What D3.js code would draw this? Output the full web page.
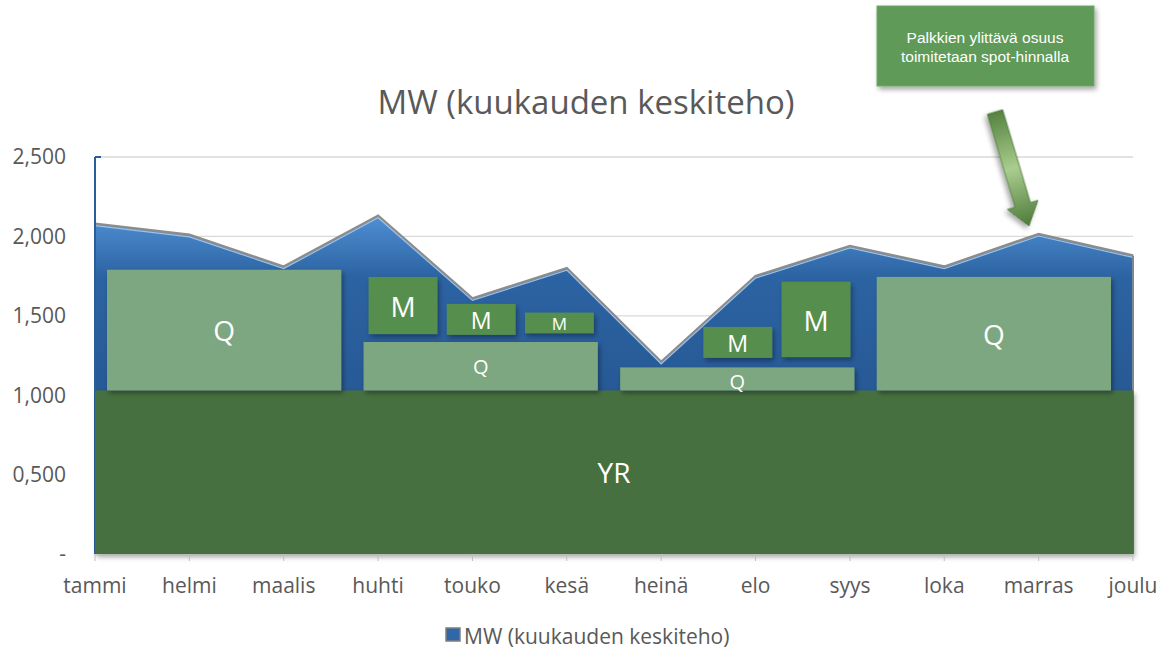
<!doctype html>
<html lang="fi">
<head>
<meta charset="UTF-8" />
<title>MW (kuukauden keskiteho)</title>
<script src="https://d3js.org/d3.v7.min.js"></script>
<style>
  html,body{margin:0;padding:0;background:#fff;}
  svg{font-family:"Open Sans","DejaVu Sans",sans-serif;}
  .tick-label{fill:#595959;font-size:21px;}
  .box-label{fill:#fff;text-anchor:middle;dominant-baseline:central;}
</style>
</head>
<body>
<div id="chart"></div>
<script>
/* ───── data ───── */
const months   = ['tammi','helmi','maalis','huhti','touko','kesä','heinä','elo','syys','loka','marras','joulu'];
const mwValues = [2080, 2010, 1810, 2130, 1610, 1800, 1210, 1750, 1940, 1810, 2015, 1880];
const yTicks   = [0, 500, 1000, 1500, 2000, 2500];
const yTickLabels = ['-', '0,500', '1,000', '1,500', '2,000', '2,500'];

const yrValue  = 1030;                       // vuosituote (YR)
const quarters = ['Q1','Q2','Q3','Q4'];
const qTop     = [1790, 1335, 1175, 1745];   // kvartaalituotteiden yläreuna
const mMonthIdx = [3, 4, 5, 7, 8];           // huhti, touko, kesä, elo, syys
const mBottom  = [1385, 1380, 1390, 1235, 1240];
const mTop     = [1745, 1575, 1520, 1430, 1715];

const titleText  = 'MW (kuukauden keskiteho)';
const legendText = 'MW (kuukauden keskiteho)';
const noteLines  = ['Palkkien ylittävä osuus', 'toimitetaan spot-hinnalla'];

/* ───── geometry ───── */
const W = 1159, H = 650;
const pL = 95, pR = 1133, pT = 157, pB = 554;

const svg = d3.select('#chart').append('svg').attr('width', W).attr('height', H);
const defs = svg.append('defs');

const areaGrad = defs.append('linearGradient').attr('id','areaGrad').attr('x1',0).attr('x2',0).attr('y1',0).attr('y2',1);
areaGrad.append('stop').attr('offset','0%').attr('stop-color','#4f8fd3');
areaGrad.append('stop').attr('offset','18%').attr('stop-color','#2c63a2');
areaGrad.append('stop').attr('offset','100%').attr('stop-color','#1f4c84');

const arrowGrad = defs.append('linearGradient').attr('id','arrowGrad').attr('x1',0).attr('x2',1).attr('y1',0).attr('y2',0);
arrowGrad.append('stop').attr('offset','0%').attr('stop-color','#56823f');
arrowGrad.append('stop').attr('offset','50%').attr('stop-color','#a9cd8e');
arrowGrad.append('stop').attr('offset','100%').attr('stop-color','#4d7a3a');

const shadow = defs.append('filter').attr('id','shadow').attr('x','-10%').attr('y','-10%').attr('width','130%').attr('height','140%');
shadow.append('feDropShadow').attr('dx',2).attr('dy',3).attr('stdDeviation',2.5).attr('flood-color','#000').attr('flood-opacity',0.35);

/* ───── scales ───── */
const x = d3.scalePoint().domain(months).range([pL, pR]);
const y = d3.scaleLinear().domain([0, 2500]).range([pB, pT]);
const xq = d3.scaleBand().domain(quarters).range([107, 1111]).paddingInner(0.087);
const xm = d3.scaleBand().domain([0,1,2]).range([5, xq.bandwidth() - 4]).paddingInner(0.12);

/* ───── gridlines ───── */
svg.append('g').selectAll('line').data(yTicks.slice(1)).join('line')
  .attr('x1', pL).attr('x2', pR)
  .attr('y1', d => y(d)).attr('y2', d => y(d))
  .attr('stroke', '#d9d9d9').attr('stroke-width', 1.3);

/* ───── title ───── */
svg.append('text').attr('x', 586).attr('y', 114).attr('text-anchor','middle')
  .attr('fill','#595959').style('font-size','33px').text(titleText);

/* ───── y axis labels ───── */
svg.append('g').selectAll('text').data(yTicks).join('text')
  .attr('class','tick-label').attr('x', 66).attr('y', d => y(d)).attr('dy','0.35em')
  .attr('text-anchor','end').text((d,i) => yTickLabels[i]);

/* ───── MW area ───── */
const area = d3.area().x((d,i) => x(months[i])).y0(y(0)).y1(d => y(d));
svg.append('path').datum(mwValues).attr('d', area).attr('fill','url(#areaGrad)');
svg.append('path').datum(mwValues)
  .attr('d', d3.line().x((d,i) => x(months[i])).y(d => y(d)))
  .attr('fill','none').attr('stroke','#8c8c8c').attr('stroke-width',2.5);
svg.append('path').datum(mwValues)
  .attr('d', d3.line().x((d,i) => x(months[i])).y(d => y(d) + 2))
  .attr('fill','none').attr('stroke','#9cc3ea').attr('stroke-width',1.2);

// vertical edges / axis line
svg.append('line').attr('x1', pL).attr('x2', pL).attr('y1', pT).attr('y2', pB)
  .attr('stroke','#2b5d9b').attr('stroke-width',2);
svg.append('line').attr('x1', pL).attr('x2', pL + 6).attr('y1', pT).attr('y2', pT)
  .attr('stroke','#2b5d9b').attr('stroke-width',2);
svg.append('line').attr('x1', pR).attr('x2', pR).attr('y1', y(mwValues[11])).attr('y2', pB)
  .attr('stroke','#7f8790').attr('stroke-width',2);

/* ───── YR band ───── */
svg.append('rect').attr('x', pL).attr('y', y(yrValue))
  .attr('width', pR - pL).attr('height', y(0) - y(yrValue))
  .attr('fill','#476f41').attr('filter','url(#shadow)');
svg.append('text').attr('class','box-label').attr('x', (pL + pR) / 2)
  .attr('y', (y(yrValue) + y(0)) / 2).style('font-size','28px').text('YR');

/* ───── quarter products ───── */
const qG = svg.append('g');
quarters.forEach((q, i) => {
  const h = y(yrValue) - y(qTop[i]);
  qG.append('rect').attr('x', xq(q)).attr('y', y(qTop[i]))
    .attr('width', xq.bandwidth()).attr('height', h)
    .attr('fill','#7ba780').attr('filter','url(#shadow)');
  qG.append('text').attr('class','box-label')
    .attr('x', xq(q) + xq.bandwidth() / 2).attr('y', y(qTop[i]) + h / 2 + (h < 30 ? 3 : 0))
    .style('font-size', (h > 80 ? 28 : 20) + 'px').text('Q');
});

/* ───── month products ───── */
const mG = svg.append('g');
mMonthIdx.forEach((m, i) => {
  const q = quarters[Math.floor(m / 3)];
  const x0 = xq(q) + xm(m % 3);
  const h = y(mBottom[i]) - y(mTop[i]);
  mG.append('rect').attr('x', x0).attr('y', y(mTop[i]))
    .attr('width', xm.bandwidth()).attr('height', h)
    .attr('fill','#578f4e').attr('filter','url(#shadow)');
  mG.append('text').attr('class','box-label')
    .attr('x', x0 + xm.bandwidth() / 2).attr('y', y(mTop[i]) + h / 2 + 1)
    .style('font-size', Math.max(17, Math.min(28, h * 0.75)) + 'px').text('M');
});

/* ───── x axis ───── */
svg.append('line').attr('x1', pL).attr('x2', pR).attr('y1', pB + 1).attr('y2', pB + 1)
  .attr('stroke','#bfbfbf').attr('stroke-width',1);
svg.append('g').selectAll('line').data(months).join('line')
  .attr('x1', d => x(d)).attr('x2', d => x(d)).attr('y1', pB).attr('y2', pB + 7)
  .attr('stroke','#bfbfbf');
svg.append('g').selectAll('text').data(months).join('text')
  .attr('class','tick-label').attr('x', d => x(d)).attr('y', 593)
  .attr('text-anchor','middle').text(d => d);

/* ───── legend ───── */
svg.append('rect').attr('x', 446).attr('y', 628).attr('width', 14).attr('height', 13)
  .attr('fill','#2f68a8').attr('stroke','#7f7f7f').attr('stroke-width',1.5);
svg.append('text').attr('class','tick-label').attr('x', 464).attr('y', 644).text(legendText);

/* ───── callout ───── */
svg.append('rect').attr('x', 877).attr('y', 6).attr('width', 217).attr('height', 80)
  .attr('fill','#5f9a59').attr('stroke','#6fa868').attr('filter','url(#shadow)');
svg.append('g').selectAll('text').data(noteLines).join('text')
  .attr('x', 985).attr('y', (d,i) => 43 + i * 19).attr('text-anchor','middle')
  .attr('fill','#fff').style('font-family','"Liberation Sans",Arial,sans-serif')
  .style('font-size','15.5px').text(d => d);

/* arrow pointing down towards marras */
const ax0 = 995, ay0 = 112, ax1 = 1029, ay1 = 226;
const ang = Math.atan2(ay1 - ay0, ax1 - ax0) * 180 / Math.PI;
const len = Math.hypot(ax1 - ax0, ay1 - ay0);
svg.append('path')
  .attr('transform', `translate(${ax0},${ay0}) rotate(${ang})`)
  .attr('d', `M0,-8 L${len - 22},-8 L${len - 22},-16 L${len},0 L${len - 22},16 L${len - 22},8 L0,8 Z`)
  .attr('fill','url(#arrowGrad)').attr('stroke','#4d7a3a').attr('stroke-width',0.8)
  .attr('filter','url(#shadow)');
</script>
</body>
</html>
